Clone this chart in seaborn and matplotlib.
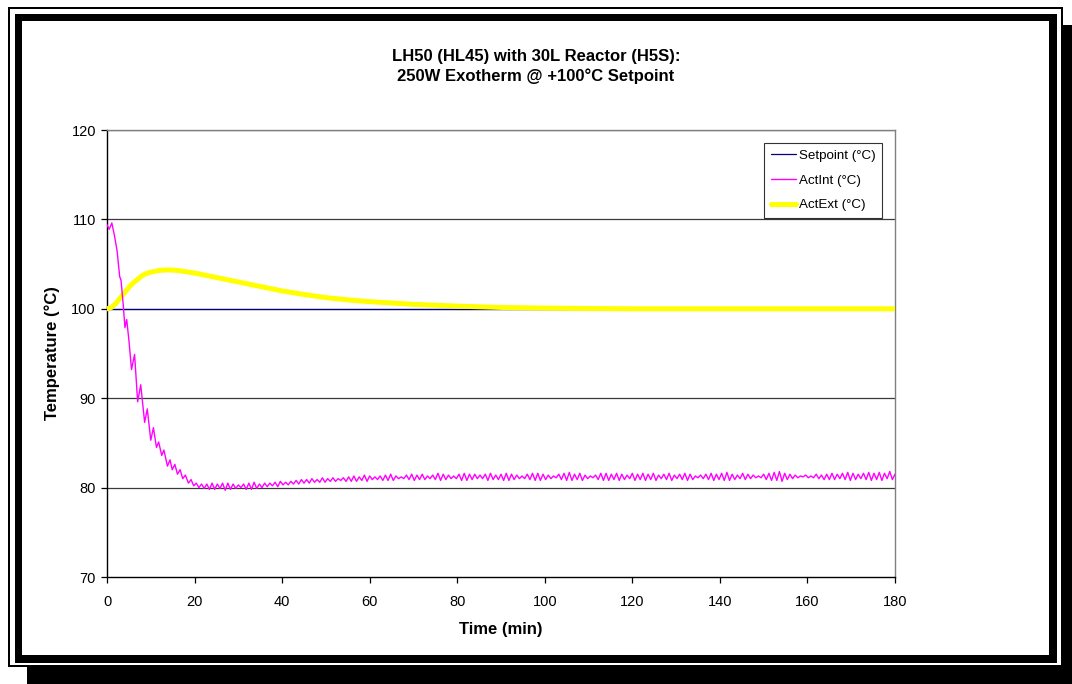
import numpy as np
import pandas as pd
import matplotlib
matplotlib.use('Agg')
import matplotlib.pyplot as plt
from matplotlib.patches import Rectangle
import seaborn as sns

# Setpoint (constant)
set_time = [0, 180]
set_temp = [100.0, 100.0]

# ActExt (jacket / external)
ext_time = [0, 1, 2, 3, 4, 5, 6, 7, 8, 9, 10, 12, 14, 16, 18, 20, 25, 30, 35, 40,
            45, 50, 55, 60, 70, 80, 90, 100, 110, 120, 140, 160, 180]
ext_temp = [100.0, 100.15, 100.6, 101.2, 101.8, 102.4, 102.9, 103.3, 103.7, 103.95,
            104.1, 104.3, 104.35, 104.3, 104.15, 104.0, 103.5, 103.0, 102.5, 102.0,
            101.6, 101.25, 101.0, 100.8, 100.5, 100.3, 100.15, 100.08, 100.03, 100.0,
            100.0, 100.0, 100.0]

# ActInt (internal) - first 20 minutes, peaks and troughs
int_time_start = [0, 0.5, 1.1, 1.7, 2.3, 2.9, 3.2, 3.7, 4.1, 4.5, 5.0, 5.6, 6.3, 7.0,
                  7.7, 8.6, 9.2, 10.0, 10.6, 11.3, 11.8, 12.5, 13.0, 13.8, 14.4, 14.9,
                  15.5, 16.1, 16.7, 17.3, 17.9, 18.6, 19.2, 19.8]
int_temp_start = [109.4, 108.9, 109.6, 108.2, 106.5, 103.6, 103.2, 100.5, 97.9, 98.8,
                  96.5, 93.2, 94.9, 89.6, 91.5, 87.3, 88.8, 85.3, 86.7, 84.5, 85.1,
                  83.6, 84.2, 82.4, 83.1, 82.0, 82.6, 81.5, 82.0, 81.0, 81.4, 80.5,
                  80.9, 80.2]

# ActInt from 20.4 min on, every 0.6 min (half an oscillation)
int_temp_rest = [
    80.5, 80.0, 80.4, 79.9, 80.4, 79.8, 80.5, 79.8, 80.4, 79.9,
    80.5, 79.7, 80.5, 79.8, 80.4, 79.9, 80.3, 80.0, 80.4, 79.8,
    80.5, 79.8, 80.6, 79.9, 80.4, 80.0, 80.5, 80.1, 80.5, 80.2,
    80.6, 80.1, 80.7, 80.3, 80.6, 80.3, 80.7, 80.4, 80.8, 80.4,
    80.9, 80.5, 80.9, 80.5, 81.0, 80.6, 80.9, 80.6, 81.1, 80.6,
    81.0, 80.7, 81.1, 80.7, 81.0, 80.8, 81.1, 80.7, 81.2, 80.7,
    81.3, 80.7, 81.2, 80.8, 81.4, 80.7, 81.3, 80.9, 81.2, 80.9,
    81.3, 80.8, 81.4, 80.8, 81.5, 80.8, 81.3, 81.0, 81.2, 81.0,
    81.4, 80.9, 81.5, 80.8, 81.4, 80.9, 81.5, 80.9, 81.3, 81.0,
    81.4, 80.9, 81.6, 80.8, 81.5, 80.9, 81.4, 81.0, 81.3, 81.0,
    81.5, 80.8, 81.6, 80.8, 81.5, 80.9, 81.5, 81.0, 81.4, 81.0,
    81.5, 80.8, 81.6, 80.9, 81.4, 80.9, 81.5, 80.8, 81.6, 80.8,
    81.5, 80.9, 81.4, 81.0, 81.3, 81.0, 81.5, 80.9, 81.6, 80.8,
    81.6, 80.8, 81.5, 80.9, 81.4, 81.0, 81.3, 81.1, 81.5, 80.9,
    81.6, 80.8, 81.7, 80.8, 81.5, 80.9, 81.6, 80.8, 81.4, 81.0,
    81.3, 81.1, 81.4, 80.9, 81.6, 80.8, 81.6, 80.8, 81.5, 80.9,
    81.6, 80.8, 81.5, 80.9, 81.4, 81.0, 81.6, 80.8, 81.5, 80.9,
    81.6, 80.8, 81.5, 80.9, 81.6, 80.8, 81.4, 81.0, 81.5, 80.9,
    81.6, 80.8, 81.4, 81.0, 81.5, 80.9, 81.6, 80.8, 81.5, 80.9,
    81.3, 81.1, 81.4, 81.0, 81.5, 80.9, 81.6, 80.8, 81.5, 80.9,
    81.6, 80.8, 81.7, 80.8, 81.5, 80.9, 81.4, 81.0, 81.6, 80.9,
    81.5, 81.0, 81.4, 81.1, 81.3, 81.1, 81.5, 80.9, 81.6, 80.8,
    81.7, 80.8, 81.8, 80.7, 81.6, 80.9, 81.5, 81.0, 81.4, 81.1,
    81.3, 81.2, 81.4, 81.1, 81.3, 81.1, 81.5, 81.0, 81.4, 80.9,
    81.5, 80.9, 81.6, 80.9, 81.5, 81.0, 81.6, 80.9, 81.7, 80.8,
    81.6, 80.9, 81.5, 81.0, 81.6, 80.9, 81.7, 80.8, 81.6, 80.9,
    81.7, 80.8, 81.6, 81.0, 81.8, 80.9, 81.5]
int_time_rest = list(np.round(np.arange(20.4, 180.01, 0.6), 1))

int_time = int_time_start + int_time_rest
int_temp = int_temp_start + int_temp_rest

x_ticks = [0, 20, 40, 60, 80, 100, 120, 140, 160, 180]
y_ticks = [70, 80, 90, 100, 110, 120]

sns.set_theme(style='white')
plt.rcParams['font.family'] = ['Liberation Sans', 'DejaVu Sans']
plt.rcParams['text.color'] = 'black'
plt.rcParams['axes.labelcolor'] = 'black'
plt.rcParams['xtick.color'] = 'black'
plt.rcParams['ytick.color'] = 'black'

W, H = 1072, 684
fig = plt.figure(figsize=(W / 100, H / 100), dpi=100)
fig.patch.set_facecolor('white')


def px_rect(x0, y0, x1, y1, color, z):
    # image pixel coords (y down) -> figure fraction
    r = Rectangle((x0 / W, 1 - y1 / H), (x1 - x0) / W, (y1 - y0) / H,
                  transform=fig.transFigure, facecolor=color, edgecolor='none',
                  zorder=z)
    fig.add_artist(r)


# page border with drop shadow
px_rect(27, 25, 1080, 690, 'black', -10)
px_rect(8, 7, 1063, 667, 'black', -9)
px_rect(10, 9, 1061, 665, 'white', -8)
px_rect(15, 14, 1057, 663, 'black', -7)
px_rect(22, 21, 1049, 655, 'white', -6)

ax = fig.add_axes([107 / W, 1 - 577 / H, 788 / W, 447 / H])
ax.set_facecolor('white')

sns.lineplot(x=set_time, y=set_temp, ax=ax, color='#000080', linewidth=0.9,
             label='Setpoint (°C)', zorder=3)
sns.lineplot(x=int_time, y=int_temp, ax=ax, color='#FF00FF', linewidth=1.0,
             label='ActInt (°C)', zorder=5, sort=False, estimator=None)
sns.lineplot(x=ext_time, y=ext_temp, ax=ax, color='#FFFF00', linewidth=3.6,
             label='ActExt (°C)', zorder=4, sort=False, estimator=None)

ax.set_xlim(0, 180)
ax.set_ylim(70, 120)
ax.set_xticks(x_ticks)
ax.set_yticks(y_ticks)
for yv in y_ticks[1:]:
    ax.axhline(yv, color='#3a3a3a', linewidth=0.9, zorder=1)

for s in ['left', 'bottom']:
    ax.spines[s].set_color('black')
    ax.spines[s].set_linewidth(1.0)
for s in ['top', 'right']:
    ax.spines[s].set_color('#808080')
    ax.spines[s].set_linewidth(1.0)

ax.tick_params(axis='both', direction='out', length=4, width=0.9, color='black',
               labelsize=10.5, bottom=True, left=True)
ax.tick_params(axis='x', pad=9)
ax.tick_params(axis='y', pad=4)
ax.set_xlabel('Time (min)', fontsize=12, fontweight='bold', labelpad=9)
ax.set_ylabel('Temperature (°C)', fontsize=12, fontweight='bold', labelpad=8)

leg = ax.legend(loc='upper right', bbox_to_anchor=(0.9835, 0.971),
                borderaxespad=0, fontsize=9.6, frameon=True, fancybox=False,
                handlelength=1.9, handletextpad=0.2, labelspacing=0.93,
                borderpad=0.5)
leg.get_frame().set_edgecolor('black')
leg.get_frame().set_linewidth(0.8)

fig.text(536 / W, 1 - 56 / H, 'LH50 (HL45) with 30L Reactor (H5S):',
         ha='center', va='center', fontsize=12, fontweight='bold')
fig.text(536 / W, 1 - 76 / H, '250W Exotherm @ +100°C Setpoint',
         ha='center', va='center', fontsize=12, fontweight='bold')

fig.savefig('out.png', dpi=100)
